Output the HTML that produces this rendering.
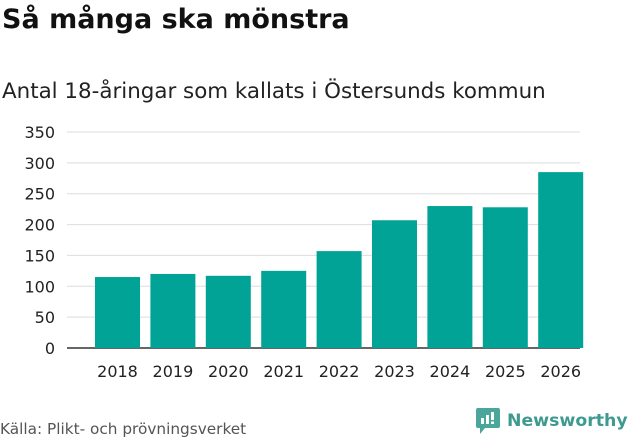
<!DOCTYPE html>
<html><head><meta charset="utf-8"><style>
body{margin:0;width:631px;height:439px;background:#fff;font-family:"DejaVu Sans","Liberation Sans",sans-serif;overflow:hidden;position:relative}
#title{position:absolute;left:2px;top:4px;font-size:27px;font-weight:bold;color:#111;margin:0}
#sub{position:absolute;left:2px;top:79px;font-size:21.4px;color:#222}
#src{position:absolute;left:0;top:420px;font-size:15.3px;color:#555}
#logo{position:absolute;left:476px;top:408px;display:flex;align-items:center;color:#3e9a90;font-size:17.3px;font-weight:bold}
</style></head><body>
<h1 id="title">Så många ska mönstra</h1>
<div id="sub">Antal 18-åringar som kallats i Östersunds kommun</div>
<svg id="chart" width="631" height="439" style="position:absolute;left:0;top:0"></svg>
<div id="src">Källa: Plikt- och prövningsverket</div>
<div id="logo">
<svg width="24" height="26" viewBox="0 0 24 26"><path d="M2 0h20a2 2 0 0 1 2 2v16a2 2 0 0 1-2 2H9l-5 6v-6H2a2 2 0 0 1-2-2V2a2 2 0 0 1 2-2z" fill="#4aa59a"/><rect x="5" y="10" width="3" height="6" fill="#fff"/><rect x="10" y="7" width="3" height="9" fill="#fff"/><rect x="15" y="4" width="3" height="8" fill="#fff"/><rect x="15" y="13.5" width="3" height="2.5" fill="#fff"/></svg>
<span style="margin-left:7px">Newsworthy</span></div>
<script>
const categories=["2018","2019","2020","2021","2022","2023","2024","2025","2026"];
const values=[115,120,117,125,157,207,230,228,285];
const ticks=[0,50,100,150,200,250,300,350];
const NS="http://www.w3.org/2000/svg";
const svg=document.getElementById('chart');
const x0=67,x1=580,px0=89.8,px1=588.4,yb=348,yt=132,maxV=350;
const y=v=>yb-(v/maxV)*(yb-yt);
const band=(px1-px0)/categories.length;
const xc=i=>px0+band*(i+0.5);
function mk(t,a){const e=document.createElementNS(NS,t);for(const k in a)e.setAttribute(k,a[k]);svg.appendChild(e);return e;}
ticks.forEach(t=>{
 const l=mk('line',{x1:x0,x2:x1,y1:y(t),y2:y(t),stroke:t===0?'#333':'#ddd','stroke-width':t===0?1.5:1});
 
 
 const tx=mk('text',{x:55,y:y(t)+6,'text-anchor':'end','font-size':16,fill:'#222','font-family':'DejaVu Sans, Liberation Sans, sans-serif'});
 tx.textContent=t;
 
 
});
const bw=45;
values.forEach((v,i)=>{
 const r=mk('rect',{x:xc(i)-bw/2,y:y(v),width:bw,height:yb-y(v),fill:'#00a396'});
 
 
 const tx=mk('text',{x:xc(i),y:377,'text-anchor':'middle','font-size':16,fill:'#222','font-family':'DejaVu Sans, Liberation Sans, sans-serif'});
 tx.textContent=categories[i];
 
 
});
</script>
</body></html>
